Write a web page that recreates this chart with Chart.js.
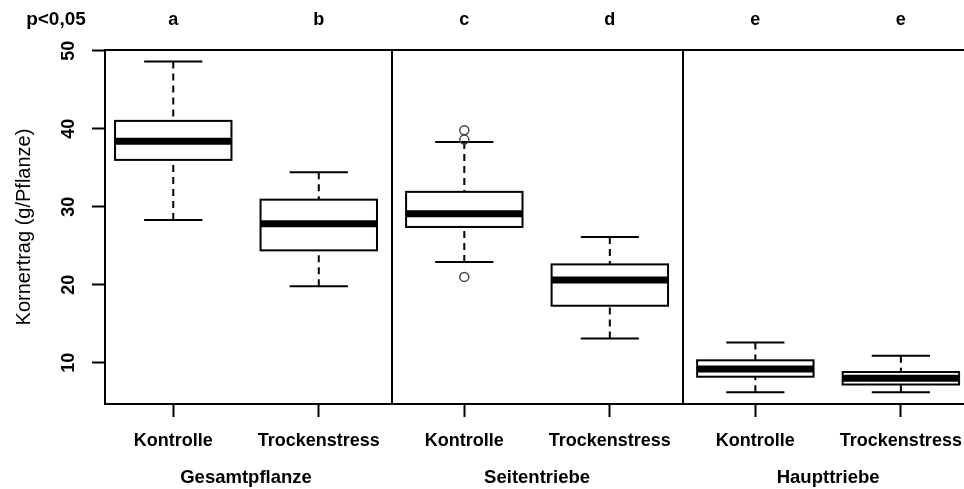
<!DOCTYPE html>
<html>
<head>
<meta charset="utf-8">
<script src="https://cdn.jsdelivr.net/npm/chart.js@4.4.1/dist/chart.umd.min.js"></script>
<style>
  html, body { margin: 0; padding: 0; background: #fff; overflow: hidden; width: 964px; height: 489px; }
  #wrap { position: relative; width: 1015px; height: 489px; }
</style>
</head>
<body>
<div id="wrap"><canvas id="c"></canvas></div>
<script>
// Kornertrag je Pflanze: Kontrolle vs. Trockenstress, getrennt nach Pflanzenteil
const treatments = ['Kontrolle', 'Trockenstress', 'Kontrolle', 'Trockenstress', 'Kontrolle', 'Trockenstress'];
const groups = ['Gesamtpflanze', 'Seitentriebe', 'Haupttriebe'];
const letters = ['a', 'b', 'c', 'd', 'e', 'e'];
const whiskerLow  = [28.3, 19.8, 22.9, 13.1, 6.2, 6.2];
const q1          = [36.0, 24.4, 27.4, 17.3, 8.2, 7.2];
const median      = [38.4, 27.8, 29.1, 20.6, 9.2, 8.0];
const q3          = [41.0, 30.9, 31.9, 22.6, 10.3, 8.8];
const whiskerHigh = [48.6, 34.4, 38.3, 26.1, 12.6, 10.9];
const outlierBox  = [3, 3, 3];
const outlierVal  = [39.8, 38.6, 21.0];
const yTicks = [10, 20, 30, 40, 50];
const yTitle = 'Kornertrag (g/Pflanze)';
const sigLabel = 'p<0,05';

const INK = '#000';
const FONT = '"Liberation Sans", Arial, sans-serif';

const boxPlugin = {
  id: 'boxes',
  beforeDatasetsDraw(chart) {
    const { ctx, chartArea: a, scales: { x, y } } = chart;
    const unit = x.getPixelForValue(2) - x.getPixelForValue(1);
    const halfBox = unit * 0.4;
    const halfCap = halfBox * 0.5;
    ctx.save();
    ctx.strokeStyle = INK;
    ctx.lineCap = 'butt';

    // separators between the three plant parts
    ctx.lineWidth = 2;
    for (let g = 1; g < groups.length; g++) {
      const px = Math.round(x.getPixelForValue(g * 2 + 0.5));
      ctx.beginPath();
      ctx.moveTo(px, a.top);
      ctx.lineTo(px, a.bottom);
      ctx.stroke();
    }

    treatments.forEach((t, i) => {
      const cx = x.getPixelForValue(i + 1);
      const yLo = y.getPixelForValue(whiskerLow[i]);
      const yQ1 = y.getPixelForValue(q1[i]);
      const yMd = y.getPixelForValue(median[i]);
      const yQ3 = y.getPixelForValue(q3[i]);
      const yHi = y.getPixelForValue(whiskerHigh[i]);

      // dashed whiskers
      ctx.lineWidth = 2;
      ctx.setLineDash([7, 5]);
      ctx.beginPath();
      ctx.moveTo(cx, yHi); ctx.lineTo(cx, yQ3);
      ctx.moveTo(cx, yLo); ctx.lineTo(cx, yQ1);
      ctx.stroke();
      ctx.setLineDash([]);

      // staples
      ctx.beginPath();
      ctx.moveTo(cx - halfCap, yHi); ctx.lineTo(cx + halfCap, yHi);
      ctx.moveTo(cx - halfCap, yLo); ctx.lineTo(cx + halfCap, yLo);
      ctx.stroke();

      // box
      ctx.fillStyle = '#fff';
      ctx.fillRect(cx - halfBox, yQ3, halfBox * 2, yQ1 - yQ3);
      ctx.lineWidth = 2;
      ctx.strokeRect(cx - halfBox, yQ3, halfBox * 2, yQ1 - yQ3);

      // median
      ctx.lineWidth = 7;
      ctx.beginPath();
      ctx.moveTo(cx - halfBox, yMd); ctx.lineTo(cx + halfBox, yMd);
      ctx.stroke();
    });
    ctx.restore();
  },
  afterDraw(chart) {
    const { ctx, chartArea: a, scales: { x, y } } = chart;
    ctx.save();
    ctx.strokeStyle = INK;
    ctx.fillStyle = INK;

    // frame
    ctx.lineWidth = 2;
    ctx.strokeRect(a.left, a.top, a.right - a.left, a.bottom - a.top);

    // y tick labels, rotated
    ctx.font = 'bold 18px ' + FONT;
    ctx.textAlign = 'center';
    ctx.textBaseline = 'middle';
    y.ticks.forEach(tk => {
      const py = y.getPixelForValue(tk.value);
      ctx.save();
      ctx.translate(69, py);
      ctx.rotate(-Math.PI / 2);
      ctx.fillText(String(tk.value), 0, 0);
      ctx.restore();
    });

    // y title
    ctx.font = '20px ' + FONT;
    ctx.save();
    ctx.translate(24, (a.top + a.bottom) / 2);
    ctx.rotate(-Math.PI / 2);
    ctx.fillText(yTitle, 0, 0);
    ctx.restore();

    // group names under the treatment labels
    ctx.font = 'bold 18.5px ' + FONT;
    ctx.textBaseline = 'alphabetic';
    groups.forEach((g, k) => {
      const px = x.getPixelForValue(k * 2 + 1.5);
      ctx.fillText(g, px, 483);
    });

    // significance letters above the boxes
    ctx.font = 'bold 18px ' + FONT;
    letters.forEach((l, i) => {
      ctx.fillText(l, x.getPixelForValue(i + 1), 25);
    });
    ctx.font = 'bold 19px ' + FONT;
    ctx.fillText(sigLabel, 56, 25);
    ctx.restore();
  }
};

new Chart(document.getElementById('c'), {
  type: 'scatter',
  data: {
    datasets: [{
      data: outlierBox.map((b, i) => ({ x: b, y: outlierVal[i] })),
      pointStyle: 'circle',
      pointRadius: 4.5,
      pointBorderWidth: 1.5,
      borderColor: '#444',
      backgroundColor: 'rgba(0,0,0,0)'
    }]
  },
  plugins: [boxPlugin],
  options: {
    responsive: true,
    maintainAspectRatio: false,
    animation: false,
    layout: { padding: { left: 0, top: 50, right: 5, bottom: 0 } },
    plugins: { legend: { display: false }, tooltip: { enabled: false } },
    scales: {
      x: {
        type: 'linear',
        min: 0.531,
        max: 6.743,
        afterBuildTicks: s => { s.ticks = treatments.map((t, i) => ({ value: i + 1 })); },
        afterFit: s => { s.height = 85; },
        border: { display: false },
        grid: { drawOnChartArea: false, drawTicks: true, tickLength: 13, tickWidth: 2, tickColor: INK },
        ticks: {
          autoSkip: false, maxRotation: 0, minRotation: 0,
          padding: 13,
          color: INK,
          font: { family: FONT, size: 18, weight: 'bold' },
          callback: (v, i) => treatments[i]
        }
      },
      y: {
        type: 'linear',
        min: 4.7,
        max: 50.09,
        afterBuildTicks: s => { s.ticks = yTicks.map(v => ({ value: v })); },
        afterFit: s => { s.width = 105; },
        border: { display: false },
        grid: { drawOnChartArea: false, drawTicks: true, tickLength: 13, tickWidth: 2, tickColor: INK },
        ticks: { display: false }
      }
    }
  }
});
</script>
</body>
</html>
